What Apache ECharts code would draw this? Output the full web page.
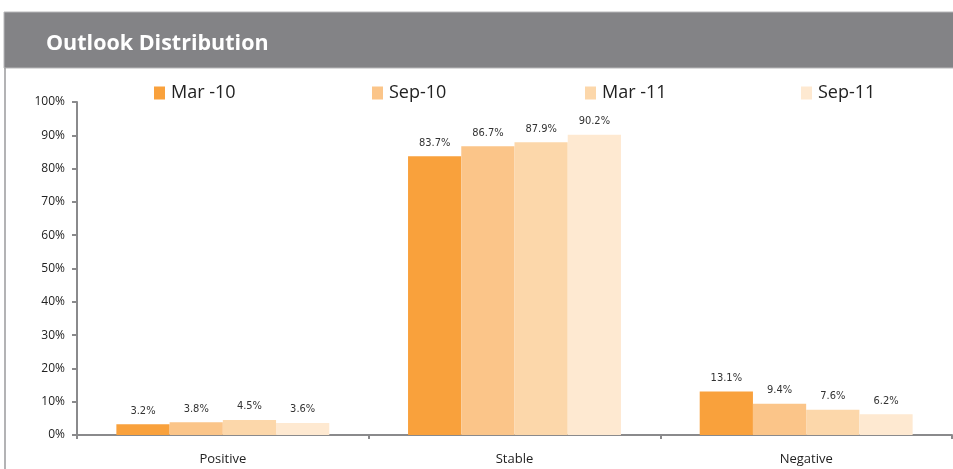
<!DOCTYPE html>
<html><head><meta charset="utf-8">
<script src="https://cdn.jsdelivr.net/npm/echarts@6/dist/echarts.min.js"></script>
<style>html,body{margin:0;padding:0;background:#fff}#c{width:953px;height:469px}</style>
</head><body><div id="c"></div>
<script>
const categories = ['Positive', 'Stable', 'Negative'];
const seriesNames = ['Mar -10', 'Sep-10', 'Mar -11', 'Sep-11'];
const mar10 = [3.2, 83.7, 13.1];
const sep10 = [3.8, 86.7, 9.4];
const mar11 = [4.5, 87.9, 7.6];
const sep11 = [3.6, 90.2, 6.2];
const yTicks = [0, 10, 20, 30, 40, 50, 60, 70, 80, 90, 100];
const colors = ['#F9A13C', '#FBC589', '#FCD7AA', '#FEE9D1'];
const values = [mar10, sep10, mar11, sep11];
const legendLeft = [154, 372, 585, 801];

const chart = echarts.init(document.getElementById('c'));
const font = '"Open Sans", sans-serif';
const labelFont = '"DejaVu Sans Condensed", "DejaVu Sans", sans-serif';
chart.setOption({
  animation: false,
  color: colors,
  textStyle: { fontFamily: font },
  graphic: [
    { type: 'rect', shape: { x: 4, y: 12, width: 960, height: 56 }, style: { fill: '#838386', stroke: '#b8b8ba', lineWidth: 1 } },
    { type: 'text', left: 46, top: 33, style: { text: 'Outlook Distribution', fill: '#fff', font: 'bold 21.5px "Open Sans"' } },
    { type: 'line', shape: { x1: 5, y1: 68, x2: 5, y2: 469 }, style: { stroke: '#9a9a9c', lineWidth: 1.5 } }
  ],
  legend: seriesNames.map((n, i) => ({
    data: [n], left: legendLeft[i], top: 84, padding: 0, icon: 'rect', itemWidth: 11, itemHeight: 13, itemGap: 0,
    textStyle: { fontSize: 18, color: '#222', fontFamily: font, padding: [0, 0, 0, 1] }
  })),
  grid: { left: 77, right: 1, top: 102, bottom: 34, containLabel: false },
  xAxis: {
    type: 'category', data: categories,
    axisLine: { lineStyle: { color: '#8a8a8c', width: 2 } },
    axisTick: { show: true, lineStyle: { color: '#8a8a8c', width: 2 }, length: 4 },
    axisLabel: { fontSize: 13, color: '#222', margin: 18, fontFamily: font }
  },
  yAxis: {
    type: 'value', min: 0, max: 100, interval: 10,
    splitLine: { show: false },
    axisLine: { show: true, lineStyle: { color: '#8a8a8c', width: 2 } },
    axisTick: { show: true, length: 5, lineStyle: { color: '#8a8a8c', width: 2 } },
    axisLabel: { fontSize: 12, color: '#222', margin: 12, fontFamily: font,
      formatter: v => yTicks.includes(v) ? v + '%' : '' }
  },
  series: seriesNames.map((n, i) => ({
    name: n, type: 'bar', data: values[i], barGap: '0%', barCategoryGap: '27%',
    itemStyle: { color: colors[i] },
    label: { show: true, position: 'top', distance: 8, fontSize: 11, color: '#333', fontFamily: labelFont,
      formatter: p => p.value.toFixed(1) + '%' }
  }))
});
</script></body></html>
